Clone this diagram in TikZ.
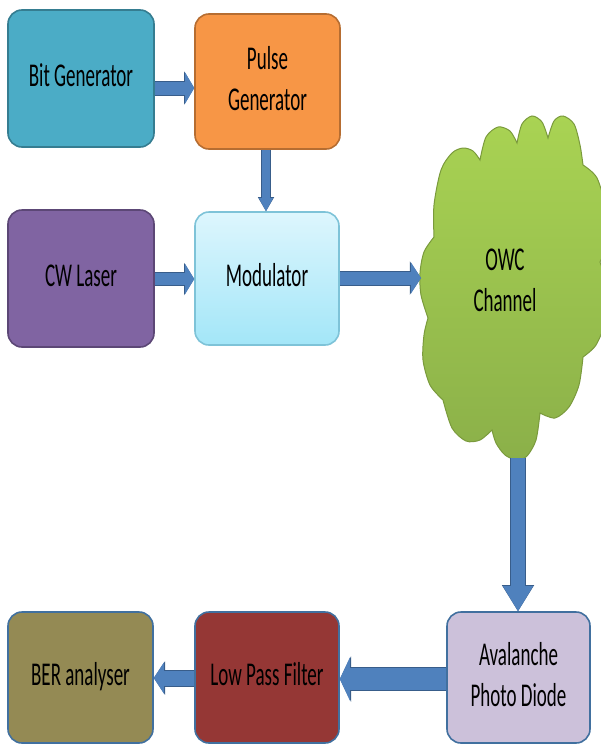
\documentclass[tikz,border=0pt]{standalone}
\usepackage{fontspec}
\usepackage{graphicx}
\setmainfont{Carlito}
\usetikzlibrary{arrows.meta}
\definecolor{bitfill}{HTML}{4BACC6}
\definecolor{bitedge}{HTML}{357D91}
\definecolor{pulsefill}{HTML}{F79646}
\definecolor{pulseedge}{HTML}{B66D31}
\definecolor{cwfill}{HTML}{8064A2}
\definecolor{cwedge}{HTML}{5C4776}
\definecolor{modtop}{HTML}{DDF6FD}
\definecolor{modbot}{HTML}{A3E6F8}
\definecolor{modedge}{HTML}{7EC3D8}
\definecolor{apdfill}{HTML}{CCC1DA}
\definecolor{lpffill}{HTML}{953735}
\definecolor{berfill}{HTML}{948A54}
\definecolor{lowedge}{HTML}{41709F}
\definecolor{arrfill}{HTML}{4F81BD}
\definecolor{arredge}{HTML}{385D8A}
\definecolor{cloudtop}{HTML}{A9D353}
\definecolor{cloudbot}{HTML}{8BB049}
\definecolor{cloudedge}{HTML}{7A9A3C}
\newcommand\vtxt[1]{\scalebox{1}[1.75]{\fontsize{19}{23.4}\selectfont\begin{tabular}{@{}c@{}}#1\end{tabular}}}
\begin{document}
\begin{tikzpicture}[x=1pt,y=-1pt,
  box/.style={draw, line width=1.6pt, rounded corners=14pt, inner sep=0pt, text=black},
  barrow/.style n args={3}{draw=arrfill, line width=#1,
    -{Triangle[width=#2,length=#3,line width=0pt]},
    preaction={draw=arredge, line width=#1+2pt,
      -{Triangle[width=#2+2.5pt,length=#3+1.2pt,line width=0pt]}}}
]
\useasboundingbox (0,0) rectangle (601,745);

% boxes
\node[box, draw=bitedge, fill=bitfill, minimum width=146pt, minimum height=137pt] (bit) at (81,78.5) {\vtxt{Bit Generator}};
\node[box, draw=pulseedge, fill=pulsefill, minimum width=145pt, minimum height=135pt] (pulse) at (267.5,81.5) {\vtxt{Pulse\\Generator}};
\node[box, draw=cwedge, fill=cwfill, minimum width=146pt, minimum height=137pt] (cw) at (81,278.5) {\vtxt{CW Laser}};
\node[box, draw=modedge, top color=modtop, bottom color=modbot, minimum width=144pt, minimum height=133pt] (mod) at (267,278.5) {\vtxt{Modulator}};
\node[box, draw=lowedge, fill=apdfill, minimum width=143pt, minimum height=131pt] (apd) at (518.5,677.5) {\vtxt{Avalanche\\Photo Diode}};
\node[box, draw=lowedge, fill=lpffill, minimum width=144pt, minimum height=131pt] (lpf) at (267,677.5) {\vtxt{Low Pass Filter}};
\node[box, draw=lowedge, fill=berfill, minimum width=145pt, minimum height=131pt] (ber) at (80.5,677.5) {\vtxt{BER analyser}};

% cloud
\path[draw=cloudedge, line width=1pt, top color=cloudtop, bottom color=cloudbot]
  plot[smooth] coordinates {(434,237) (434,205) (441,170) (452,153) (463,148) (473,151) (480,160)}
  -- plot[smooth] coordinates {(480,160) (486,137) (498,127) (510,131) (517,143)}
  -- plot[smooth] coordinates {(517,143) (522,124) (532,116) (542,122) (548,138)}
  -- plot[smooth] coordinates {(548,138) (554,121) (563,116) (574,124) (580,145) (583,165)}
  -- plot[smooth] coordinates {(583,165) (597,178) (606,210) (606,245) (600,262)}
  -- plot[smooth] coordinates {(600,262) (608,290) (606,320) (596,345) (583,357)}
  -- plot[smooth] coordinates {(583,357) (579,385) (569,407) (555,418) (540,413)}
  -- plot[smooth] coordinates {(540,413) (536,440) (527,456) (517,460) (505,455) (496,443) (492,430)}
  -- plot[smooth] coordinates {(492,430) (480,440) (466,441) (452,428) (443,400)}
  -- plot[smooth] coordinates {(443,400) (430,385) (423,360) (424,335) (428,318)}
  -- plot[smooth] coordinates {(428,318) (421,295) (420,273) (424,252) (434,237)}
  -- cycle;
\coordinate (owcin) at (421,278);
\coordinate (owcout) at (518,458);
\node[inner sep=0pt] (owc) at (505,282.5) {\vtxt{OWC\\Channel}};

% arrows
\draw[barrow={13pt}{31pt}{9pt}] (bit.east |- 0,88) -- (pulse.west |- 0,88);
\draw[barrow={8pt}{14pt}{13pt}] (pulse.south -| 266,0) -- (mod.north -| 266,0);
\draw[barrow={12pt}{30pt}{9pt}] (cw.east |- 0,279) -- (mod.west |- 0,279);
\draw[barrow={13pt}{31pt}{10pt}] (mod.east |- 0,278) -- (owcin);
\draw[barrow={14pt}{30pt}{25pt}] (owcout) -- (apd.north -| 518,0);
\draw[barrow={22pt}{43pt}{10pt}] (apd.west |- 0,679) -- (lpf.east |- 0,679);
\draw[barrow={15pt}{31pt}{10pt}] (lpf.west |- 0,678) -- (ber.east |- 0,678);
\end{tikzpicture}
\end{document}
